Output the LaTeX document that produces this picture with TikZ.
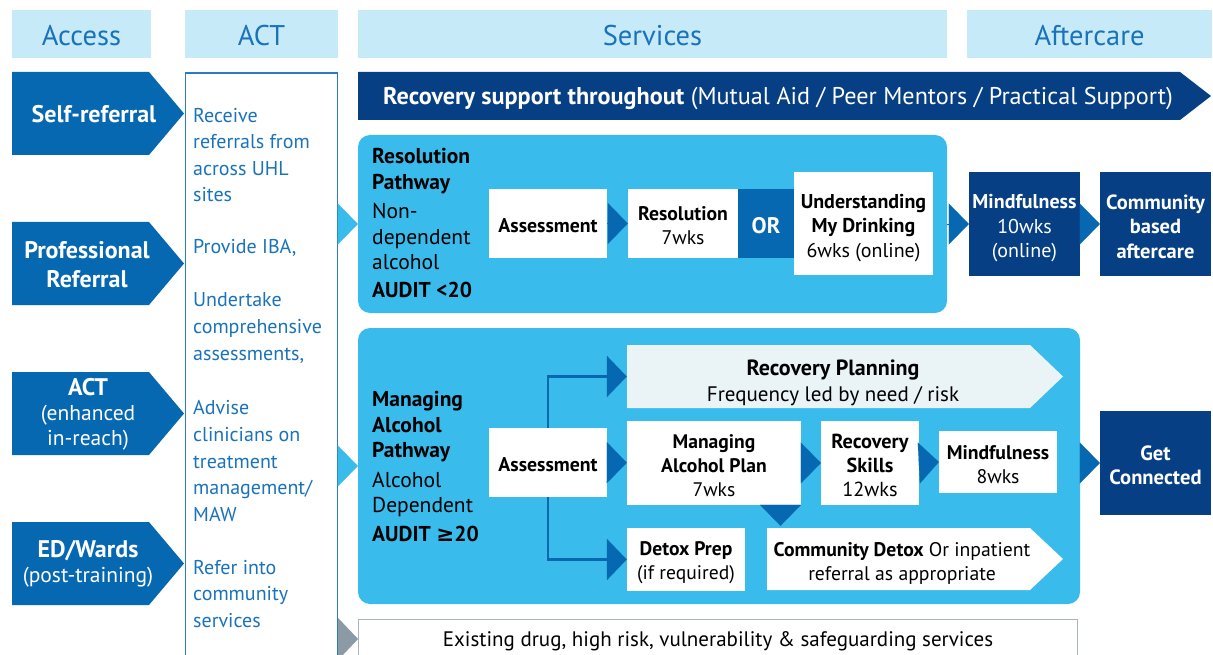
\documentclass[tikz,border=0pt]{standalone}
\usepackage{fontspec}
\setmainfont{PT Sans}
\newfontfamily\symf{DejaVu Sans}
\usetikzlibrary{arrows.meta}
\definecolor{hdrbg}{HTML}{C6EAF8}
\definecolor{hdrtext}{HTML}{1A73BA}
\definecolor{accblue}{HTML}{0768B2}
\definecolor{navy}{HTML}{073F84}
\definecolor{sky}{HTML}{39BBEC}
\definecolor{pale}{HTML}{EAF3F6}
\definecolor{greytri}{HTML}{8B9AA4}
\definecolor{greyline}{HTML}{A9B5BB}
\definecolor{actline}{HTML}{2C7BC0}
\newcommand\myfs[2]{\fontsize{#1}{#2}\selectfont}
\begin{document}
\begin{tikzpicture}[x=1pt,y=-1pt,
  hdr/.style={fill=hdrbg,text=hdrtext,inner sep=0pt,minimum height=48pt,text height=24pt,text depth=0pt,font=\myfs{28.5}{32}},
  acctext/.style={text=white,align=center,inner sep=0pt,font=\myfs{21.5}{25}},
  acttext/.style={text=hdrtext,align=left,inner sep=0pt,anchor=west,font=\myfs{20}{26.6}},
  pathtext/.style={text=black,align=left,inner sep=0pt,anchor=west,font=\myfs{21.5}{25.3}},
  wbox/.style={fill=white,inner sep=0pt},
  nbox/.style={fill=navy,inner sep=0pt},
  lbl/.style={text=black,align=center,inner sep=0pt,yshift=-2.5pt},
  nlbl/.style={text=white,align=center,inner sep=0pt,yshift=-2.5pt},
  skybox/.style={fill=sky,rounded corners=12pt,inner sep=0pt},
  tri/.style={draw=accblue,line width=0.1pt,-{Triangle[length=20pt,width=41pt]}},
  skytri/.style={draw=sky,line width=0.1pt,-{Triangle[length=20pt,width=41pt]}},
  greyarrow/.style={draw=greytri,line width=0.1pt,-{Triangle[length=20pt,width=42pt]}},
  elbow/.style={draw=accblue,line width=2.6pt,-{Triangle[length=20pt,width=41pt]}}
]
\useasboundingbox (0,0) rectangle (1213,655);
\fill[white] (0,0) rectangle (1213,655);

% headers
\node[hdr,minimum width=139pt] (hAccess) at (81.5,34) {Access};
\node[hdr,minimum width=153pt] (hACT) at (261.5,34) {ACT};
\node[hdr,minimum width=589pt] (hServ) at (652.5,34) {Services};
\node[hdr,minimum width=245pt] (hAfter) at (1089.5,34) {Aftercare};

% access arrows
\foreach \dy in {0,150,300,450}
  \fill[accblue] (12,72+\dy) -- (149,72+\dy) -- (184,113.5+\dy) -- (149,155+\dy) -- (12,155+\dy) -- cycle;
\node[acctext,font=\bfseries\myfs{24}{29}] (aSelf) at (94,114) {Self-referral};
\node[acctext,font=\bfseries\myfs{24}{29}] (aProf) at (87,265) {Professional\\Referral};
\node[acctext] (aACT) at (88,414) {{\bfseries\myfs{24}{25}ACT}\\(enhanced\\in-reach)};
\node[acctext] (aED) at (88,564) {{\bfseries\myfs{24}{25}ED/Wards}\\(post-training)};

% ACT column
\node[draw=actline,line width=1.2pt,fill=white,minimum width=152pt,minimum height=600pt,anchor=north west,inner sep=0pt] (actbox) at (185,72.5) {};
\node[acttext] (t1) at (193,155) {Receive\\referrals from\\across UHL\\sites};
\node[acttext] (t2) at (193,248) {Provide IBA,};
\node[acttext] (t3) at (193,328) {Undertake\\comprehensive\\assessments,};
\node[acttext] (t4) at (193,461) {Advise\\clinicians on\\treatment\\management/\\MAW};
\node[acttext] (t5) at (193,594) {Refer into\\community\\services};

% recovery support throughout
\fill[navy] (358,72) -- (1180,72) -- (1211,96) -- (1180,120) -- (358,120) -- cycle;
\node[anchor=west,text=white,inner sep=0pt,font=\myfs{24.2}{26}] (rst) at (383,98.5) {\textbf{Recovery support throughout} (Mutual Aid / Peer Mentors / Practical Support)};

% pathway boxes
\node[skybox,minimum width=589pt,minimum height=178pt] (resbox) at (652.5,224) {};
\node[skybox,minimum width=722pt,minimum height=276pt] (mgbox) at (719,466) {};

% existing services
\node[draw=greyline,line width=1.2pt,fill=white,minimum width=719pt,minimum height=60pt,anchor=north west,inner sep=0pt] (exbox) at (358,618.5) {};
\node[inner sep=0pt,font=\myfs{21}{24}] (extxt) at (718,641.5) {Existing drug, high risk, vulnerability \& safeguarding services};

% entry arrows
\draw[skytri] (actbox.east |- resbox.west) -- (resbox.west);
\draw[skytri] (actbox.east |- mgbox.west) -- (mgbox.west);
\draw[greyarrow] (actbox.east |- 0,639) -- (exbox.west |- 0,639);

% resolution pathway
\node[pathtext] (rptext) at (372,223) {\textbf{Resolution}\\\textbf{Pathway}\\[4.5pt]Non-\\dependent\\alcohol\\[2.5pt]\textbf{AUDIT <20}};
\node[wbox,minimum width=118pt,minimum height=69pt] (ass1) at (548,223.5) {};
\node[lbl,font=\bfseries\myfs{19.8}{24}] (ass1t) at (ass1.center) {Assessment};
\node[wbox,minimum width=110pt,minimum height=69pt] (res1) at (683,223.5) {};
\node[lbl,font=\myfs{19.7}{24}] (res1t) at (res1.center) {\textbf{Resolution}\\7wks};
\node[fill=accblue,minimum width=56pt,minimum height=69pt,inner sep=0pt] (or1) at (766,223.5) {};
\node[nlbl,font=\bfseries\myfs{22.5}{26}] (or1t) at (or1.center) {OR};
\node[wbox,minimum width=139pt,minimum height=103pt] (umd) at (863.5,223.5) {};
\node[lbl,yshift=-2pt,font=\myfs{20}{24.5}] (umdt) at (umd.center) {\textbf{Understanding}\\\textbf{My Drinking}\\6wks (online)};
\draw[tri] (ass1) -- (res1);

% aftercare
\node[nbox,minimum width=111pt,minimum height=104pt] (mf10) at (1024.5,224) {};
\node[nlbl,yshift=-2pt,font=\myfs{20}{24.5}] (mf10t) at (mf10.center) {\textbf{Mindfulness}\\10wks\\(online)};
\node[nbox,minimum width=111pt,minimum height=104pt] (cba) at (1155.5,224) {};
\node[nlbl,font=\bfseries\myfs{20.5}{24.5}] (cbat) at (cba.center) {Community\\based\\aftercare};
\draw[tri] (resbox.east |- mf10.west) -- (mf10.west);
\draw[tri] (mf10) -- (cba);

% managing alcohol pathway
\node[pathtext] (mptext) at (372,466.5) {\textbf{Managing}\\\textbf{Alcohol}\\\textbf{Pathway}\\[4.5pt]Alcohol\\Dependent\\[3.5pt]\textbf{AUDIT {\symf ≥}20}};
\node[wbox,minimum width=118pt,minimum height=69pt] (ass2) at (548,462.5) {};
\node[lbl,font=\bfseries\myfs{19.8}{24}] (ass2t) at (ass2.center) {Assessment};

\fill[pale] (627,345) -- (1030,345) -- (1063,376.5) -- (1030,408) -- (627,408) -- cycle;
\node[inner sep=0pt,minimum width=403pt,minimum height=63pt] (rp) at (828.5,376.5) {};
\node[lbl,yshift=-4pt,font=\myfs{21}{26}] (rpt) at (833,376.5) {{\bfseries\myfs{22}{26}Recovery Planning}\\Frequency led by need / risk};

\node[wbox,minimum width=174pt,minimum height=84pt] (map) at (714,463) {};
\node[lbl,font=\myfs{19.6}{24}] (mapt) at (map.center) {\textbf{Managing}\\\textbf{Alcohol Plan}\\7wks};
\node[wbox,minimum width=98pt,minimum height=84pt] (rs) at (870,463) {};
\node[lbl,font=\myfs{20.3}{24}] (rst2) at (rs.center) {\textbf{Recovery}\\\textbf{Skills}\\12wks};
\node[wbox,minimum width=118pt,minimum height=62pt] (mf8) at (998,462) {};
\node[lbl,font=\myfs{19.7}{24}] (mf8t) at (mf8.center) {\textbf{Mindfulness}\\8wks};
\node[nbox,minimum width=111pt,minimum height=104pt] (gc) at (1155.5,463) {};
\node[nlbl,font=\bfseries\myfs{20.6}{24.5}] (gct) at (gc.center) {Get\\Connected};

\node[wbox,minimum width=118pt,minimum height=63pt] (dp) at (686,559.5) {};
\node[lbl,yshift=-1pt,font=\myfs{19.6}{24}] (dpt) at (dp.center) {\textbf{Detox Prep}\\(if required)};
\fill[white] (767,528) -- (1030,528) -- (1063,559) -- (1030,590) -- (767,590) -- cycle;
\node[inner sep=0pt,minimum width=263pt,minimum height=62pt] (cd) at (898.5,559) {};
\node[lbl,yshift=-2pt,font=\myfs{19.7}{24}] (cdt) at (902,559) {\textbf{Community Detox} Or inpatient\\referral as appropriate};

\draw[elbow] (ass2.north) |- (rp.west);
\draw[elbow] (ass2.south) |- (dp.west);
\draw[tri] (ass2) -- (map);
\draw[tri] (map) -- (rs);
\draw[tri] (rs.east) -- (mf8.west);
\draw[tri] (mgbox.east |- gc.west) -- (gc.west);
\coordinate (dnx) at (780.5,0);
\draw[tri,-{Triangle[length=21pt,width=41pt]},shorten >=2pt] (map.south -| dnx) -- (cd.north -| dnx);
\end{tikzpicture}
\end{document}
